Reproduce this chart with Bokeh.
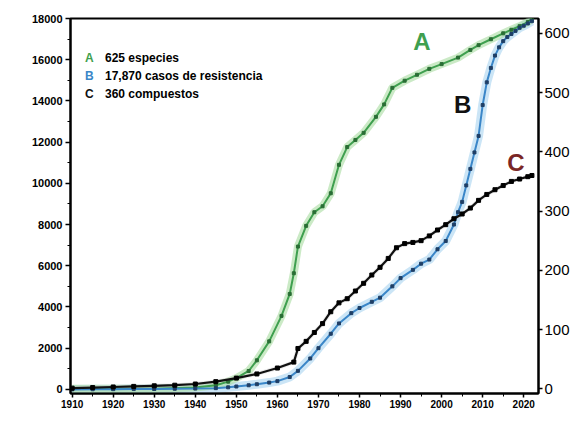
from bokeh.plotting import figure
from bokeh.models import Range1d, LinearAxis, Label, FixedTicker
from bokeh.embed import file_html
from bokeh.resources import INLINE

# --- data ---
# A: species (right axis)
a_years = [1910, 1920, 1930, 1940, 1945, 1948, 1950, 1953, 1955, 1958, 1961, 1963, 1964, 1965,
           1967, 1969, 1971, 1973, 1975, 1977, 1979, 1981, 1984, 1986, 1988, 1991, 1994, 1997,
           2000, 2004, 2007, 2009, 2012, 2015, 2017, 2019, 2021, 2022]
a_vals = [0, 0, 0, 2, 6, 12, 18, 30, 48, 80, 123, 160, 195, 240,
          275, 298, 308, 330, 378, 408, 420, 432, 459, 480, 508, 520, 530, 540,
          548, 559, 572, 580, 590, 600, 606, 612, 619, 625]

# B: resistance cases (left axis)
b_years = [1910, 1915, 1920, 1925, 1930, 1935, 1940, 1945, 1948, 1950, 1953, 1955, 1958, 1960,
           1963, 1965, 1968, 1970, 1973, 1975, 1978, 1980, 1983, 1985, 1988, 1990, 1993, 1995,
           1997, 1999, 2001, 2003, 2004, 2005, 2006, 2007, 2008, 2009, 2010, 2011, 2012, 2013,
           2014, 2015, 2016, 2017, 2018, 2019, 2020, 2021, 2022]
b_vals = [0, 5, 10, 15, 20, 30, 40, 60, 100, 140, 200, 250, 330, 400,
          600, 900, 1500, 2000, 2700, 3200, 3700, 3950, 4250, 4450, 5000, 5400, 5800, 6100,
          6300, 6800, 7200, 8000, 8600, 9100, 9900, 10700, 11500, 12300, 13800, 14900, 15600, 16200,
          16600, 16900, 17100, 17250, 17400, 17550, 17650, 17760, 17870]

# C: compounds (right axis)
c_years = [1910, 1915, 1920, 1925, 1930, 1935, 1940, 1945, 1950, 1955, 1960, 1964, 1965, 1967,
           1969, 1971, 1973, 1975, 1977, 1979, 1981, 1983, 1985, 1987, 1989, 1991, 1993, 1995,
           1997, 1999, 2001, 2003, 2005, 2007, 2009, 2011, 2013, 2015, 2017, 2019, 2021, 2022]
c_vals = [1, 2, 3, 4, 5, 6, 8, 12, 18, 25, 35, 45, 68, 80,
          95, 110, 130, 145, 152, 165, 178, 192, 205, 220, 238, 245, 247, 250,
          258, 268, 277, 287, 295, 305, 318, 328, 336, 343, 350, 354, 358, 360]

x_ticks = [1910, 1920, 1930, 1940, 1950, 1960, 1970, 1980, 1990, 2000, 2010, 2020]
left_ticks = [0, 2000, 4000, 6000, 8000, 10000, 12000, 14000, 16000, 18000]
right_ticks = [0, 100, 200, 300, 400, 500, 600]

legend_letters = ["A", "B", "C"]
legend_texts = ["625 especies", "17,870 casos de resistencia", "360 compuestos"]

FONT = "Liberation Sans"

p = figure(width=572, height=411, output_backend="svg", toolbar_location=None,
           x_range=Range1d(1909.6, 2023.6), y_range=Range1d(-200, 18000),
           min_border_left=70, min_border_right=34, min_border_top=18, min_border_bottom=18)
p.extra_y_ranges = {"right": Range1d(-8, 625)}
p.grid.visible = False
p.background_fill_color = "white"
p.border_fill_color = "white"
p.outline_line_color = "black"
p.outline_line_width = 2

# glow bands
p.line(b_years, b_vals, line_color="#a9d3f0", line_width=9, line_alpha=0.6)
p.line(a_years, a_vals, line_color="#a8dca0", line_width=8, line_alpha=0.6, y_range_name="right")
p.line(c_years, c_vals, line_color="#cccccc", line_width=4, line_alpha=0.4, y_range_name="right")

# main lines
p.line(a_years, a_vals, line_color="#3f9f4f", line_width=2, y_range_name="right")
p.scatter(a_years, a_vals, marker="square", size=3, color="#2a6e35", y_range_name="right")
p.line(b_years, b_vals, line_color="#3a86c8", line_width=2)
p.scatter(b_years, b_vals, marker="square", size=3, color="#1f3f66")
p.line(c_years, c_vals, line_color="#111111", line_width=2.2, y_range_name="right")
p.scatter(c_years, c_vals, marker="square", size=4, color="#000000", y_range_name="right")

# axes styling
def style_axis(ax, size):
    ax.axis_line_color = "black"
    ax.axis_line_width = 2
    ax.major_tick_line_color = "black"
    ax.major_tick_line_width = 1.5
    ax.minor_tick_line_color = "black"
    ax.major_tick_out = 5
    ax.major_tick_in = 0
    ax.minor_tick_out = 3
    ax.minor_tick_in = 0
    ax.major_label_text_font = FONT
    ax.major_label_text_font_style = "bold"
    ax.major_label_text_font_size = size
    ax.major_label_text_color = "black"
    ax.major_label_standoff = 3

style_axis(p.xaxis[0], "10px")
p.xaxis[0].ticker = FixedTicker(ticks=x_ticks, minor_ticks=list(range(1910, 2024, 5)))
p.xaxis[0].major_label_standoff = 2
p.xaxis[0].major_tick_out = 4

style_axis(p.yaxis[0], "11px")
p.yaxis[0].ticker = FixedTicker(ticks=left_ticks, minor_ticks=list(range(0, 18001, 1000)))

ra = LinearAxis(y_range_name="right")
style_axis(ra, "15px")
ra.major_label_text_font_style = "normal"
ra.major_label_standoff = 2
ra.major_tick_out = 4
ra.ticker = FixedTicker(ticks=right_ticks)
p.add_layout(ra, "right")

# legend (inside, top-left)
leg_colors = ["#3f9f4f", "#3a86c8", "#111111"]
leg_y = [16060, 15230, 14360]
for letter, txt, col, yy in zip(legend_letters, legend_texts, leg_colors, leg_y):
    p.add_layout(Label(x=1914.2, y=yy, text=letter, text_color=col, text_font=FONT,
                       text_font_size="12px", text_font_style="bold",
                       text_align="center", text_baseline="middle"))
    p.add_layout(Label(x=1918.0, y=yy, text=txt, text_color="black", text_font=FONT,
                       text_font_size="12px", text_font_style="bold",
                       text_align="left", text_baseline="middle"))

# big series labels
p.add_layout(Label(x=1995.2, y=16900, text="A", text_color="#3f9f4f", text_font=FONT,
                   text_font_size="24px", text_font_style="bold",
                   text_align="center", text_baseline="middle"))
p.add_layout(Label(x=2005.1, y=13850, text="B", text_color="#111111", text_font=FONT,
                   text_font_size="24px", text_font_style="bold",
                   text_align="center", text_baseline="middle"))
p.add_layout(Label(x=2018.1, y=10995, text="C", text_color="#7a2626", text_font=FONT,
                   text_font_size="24px", text_font_style="bold",
                   text_align="center", text_baseline="middle"))

open("out.html", "w").write(file_html(p, INLINE))
